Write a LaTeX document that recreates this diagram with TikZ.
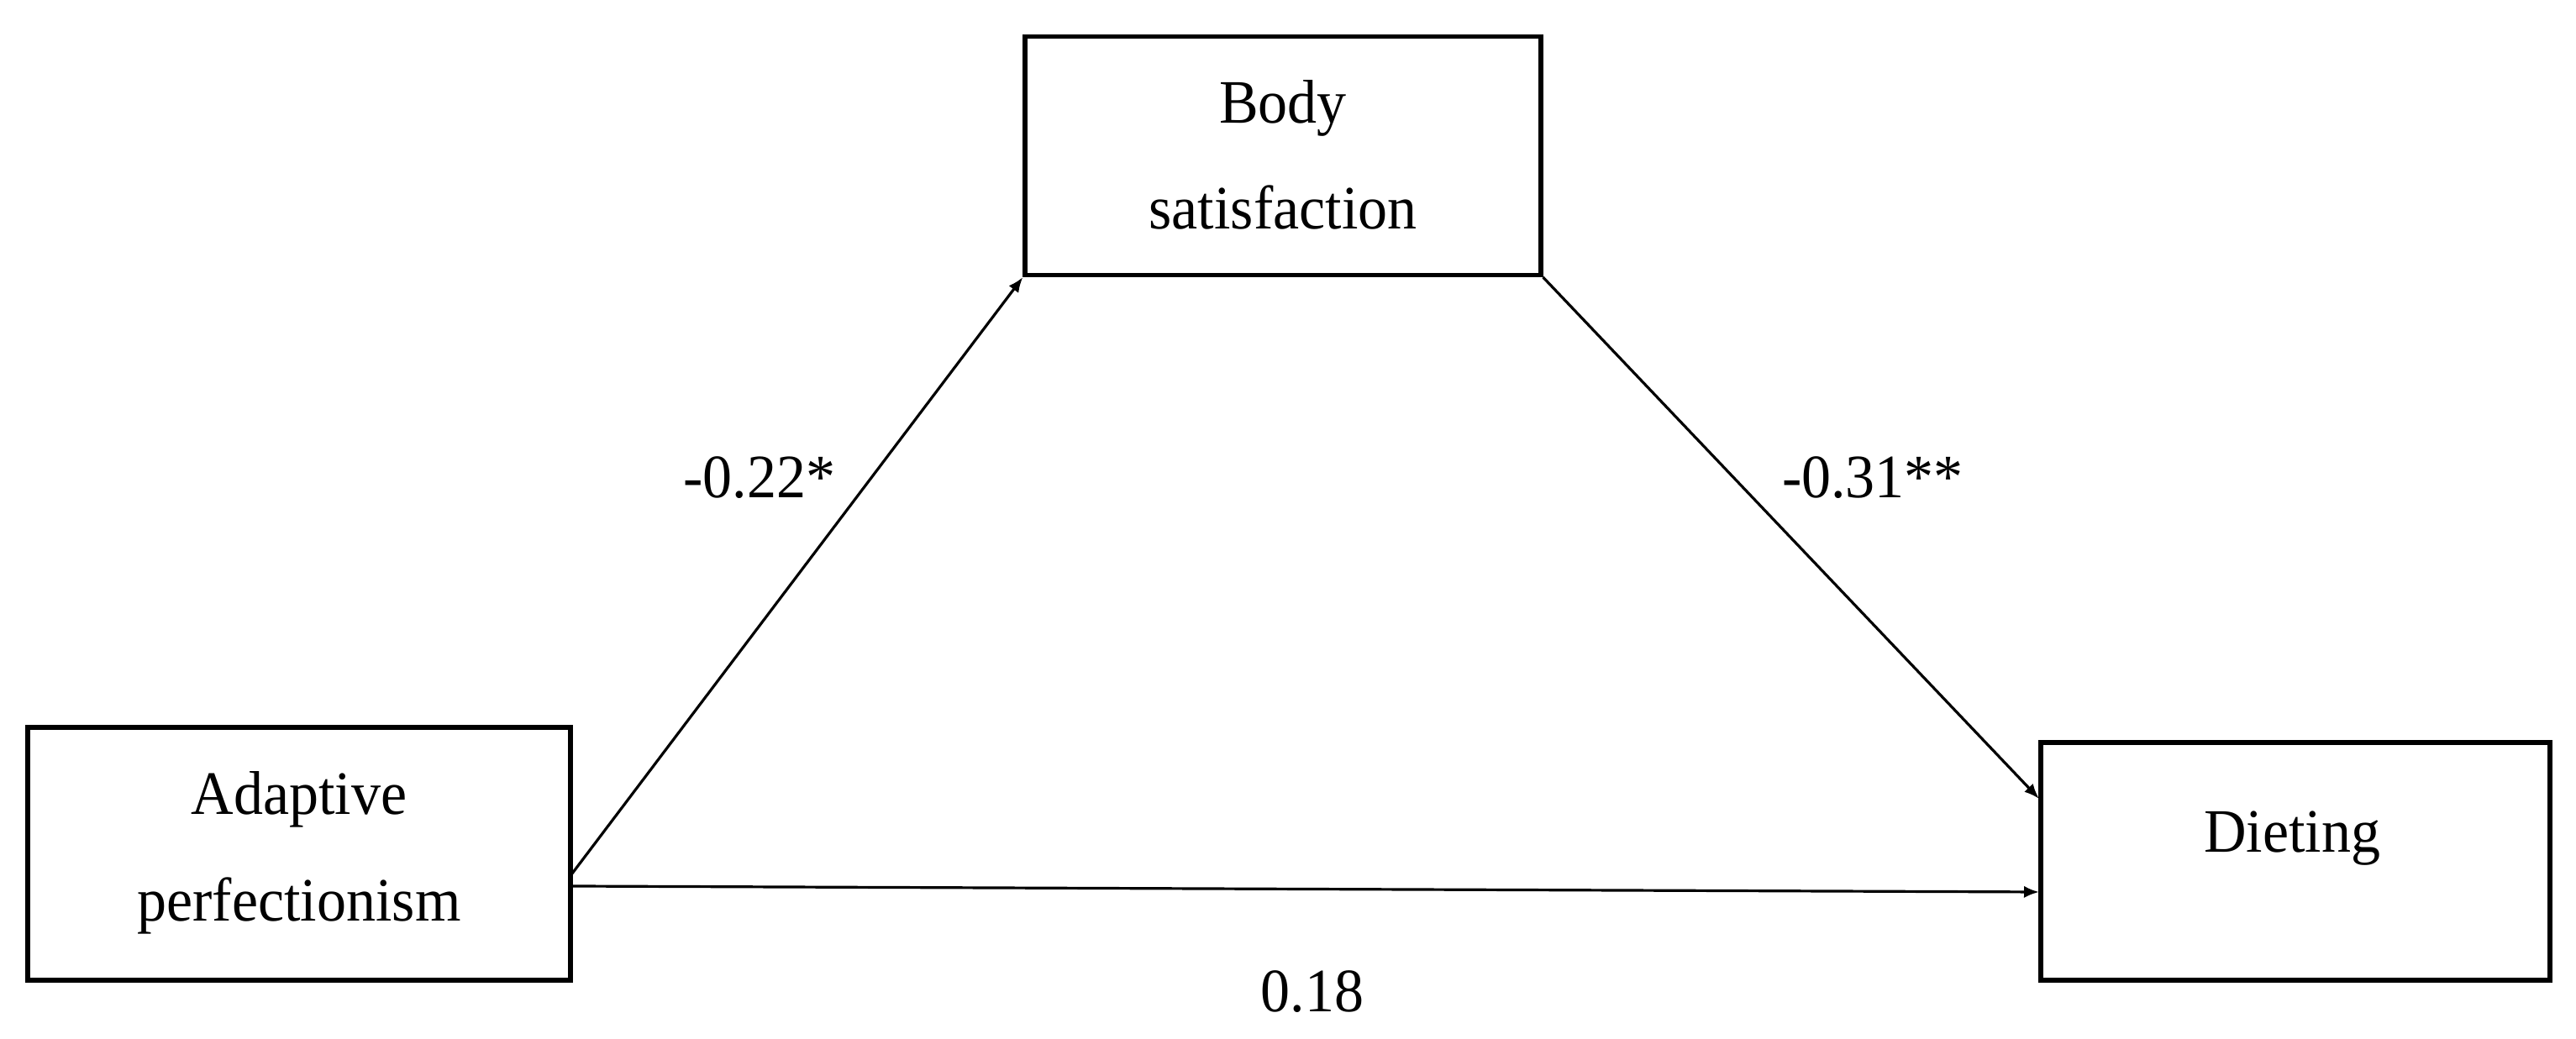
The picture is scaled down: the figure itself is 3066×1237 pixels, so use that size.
\documentclass[tikz,border=0pt]{standalone}
\usepackage{fontspec}
\setmainfont{Liberation Serif}
\usetikzlibrary{arrows.meta}
\begin{document}
\begin{tikzpicture}[x=0.25pt,y=-0.25pt,
  box/.style={draw, line width=1.3pt, inner sep=0pt, rectangle},
  lbl/.style={font=\fontsize{17.5}{21}\selectfont, inner sep=0pt, anchor=base, yscale=1.05},
  conn/.style={line width=0.8pt, -{Latex[length=4.5pt,width=3.6pt]}}]
\useasboundingbox (0,0) rectangle (3066,1237);
% boxes
\node[box, minimum width=153.5pt, minimum height=71pt] (bs) at (1527,185.5) {};
\node[box, minimum width=161.5pt, minimum height=75.25pt] (ap) at (356,1016.5) {};
\node[box, minimum width=151.5pt, minimum height=70.75pt] (di) at (2732,1025.5) {};
% box texts
\node[lbl] (bs1) at (1527,147) {Body};
\node[lbl] (bs2) at (1527,273) {satisfaction};
\node[lbl] (ap1) at (356,970) {Adaptive};
\node[lbl] (ap2) at (356,1097) {perfectionism};
\node[lbl] (di1) at (2728,1015) {Dieting};
% connector end points on box edges
\coordinate (apA) at (681,1040);
\coordinate (apB) at (681,1055);
\coordinate (diA) at (2427,951);
\coordinate (diB) at (2427,1062);
\draw[conn] (apA) -- (bs.south west);
\draw[conn] (bs.south east) -- (diA);
\draw[conn] (apB) -- (diB);
% path labels
\node[lbl] (l1) at (904,593) {-0.22*};
\node[lbl] (l2) at (2229,593) {-0.31**};
\node[lbl] (l3) at (1562,1205) {0.18};
\end{tikzpicture}
\end{document}
